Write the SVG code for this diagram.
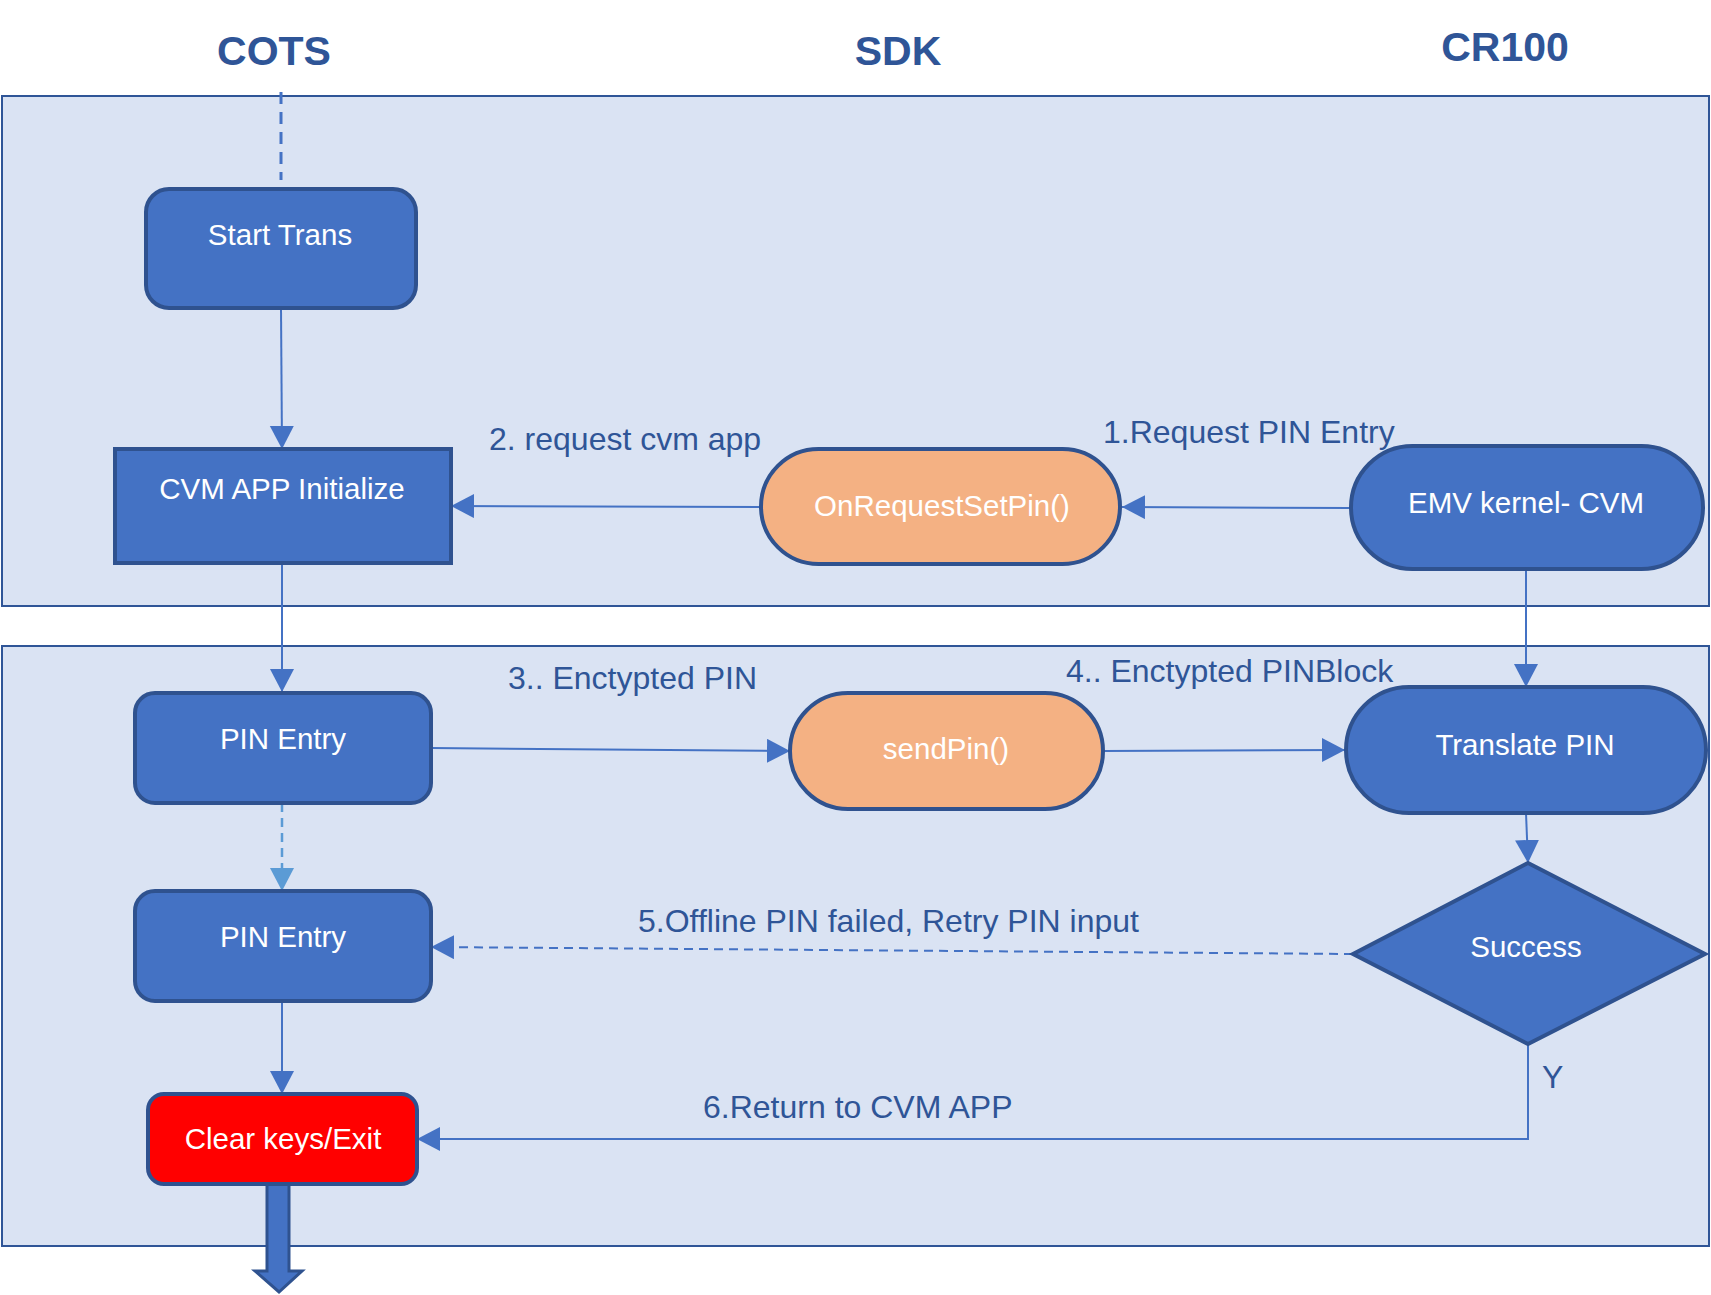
<svg xmlns="http://www.w3.org/2000/svg" width="1711" height="1295" viewBox="0 0 1711 1295">
<defs>
<style>
.panel{fill:#DAE3F3;stroke:#2F5597;stroke-width:2}
.node{fill:#4472C4;stroke:#2F528F;stroke-width:4}
.orange{fill:#F4B183;stroke:#2F528F;stroke-width:4}
.red{fill:#FF0000;stroke:#2F528F;stroke-width:4}
.ntxt{font-family:"Liberation Sans",Arial,sans-serif;font-size:29.5px;fill:#FFFFFF;text-anchor:middle}
.lbl{font-family:"Liberation Sans",Arial,sans-serif;font-size:32px;fill:#2F5597}
.title{font-family:"Liberation Sans",Arial,sans-serif;font-size:41px;font-weight:bold;fill:#2F5597;text-anchor:middle}
.conn{fill:none;stroke:#4472C4;stroke-width:2}
.dash{stroke-dasharray:9,6}
</style>
<marker id="ah" markerUnits="userSpaceOnUse" markerWidth="24" markerHeight="26" refX="23" refY="12" orient="auto">
<path d="M0,0 L23,12 L0,24 Z" fill="#4472C4"/>
</marker>
<marker id="ahl" markerUnits="userSpaceOnUse" markerWidth="24" markerHeight="26" refX="23" refY="12" orient="auto">
<path d="M0,0 L23,12 L0,24 Z" fill="#5B9BD5"/>
</marker>
</defs>
<rect width="1711" height="1295" fill="#FFFFFF"/>
<g id="titles">
<text class="title" x="274" y="65">COTS</text>
<text class="title" x="898" y="65">SDK</text>
<text class="title" x="1505" y="61">CR100</text>
</g>
<g id="panels">
<rect class="panel" x="2" y="96" width="1707" height="510"/>
<rect class="panel" x="2" y="646" width="1707" height="600"/>
</g>
<g id="connectors">
<line x1="281" y1="92" x2="281" y2="180" stroke="#4472C4" stroke-width="3" stroke-dasharray="12,8"/>
<line class="conn" x1="281" y1="308" x2="282" y2="449" marker-end="url(#ah)"/>
<line class="conn" x1="761" y1="507" x2="451" y2="506" marker-end="url(#ah)"/>
<line class="conn" x1="1351" y1="508" x2="1122" y2="507" marker-end="url(#ah)"/>
<line class="conn" x1="282" y1="563" x2="282" y2="692" marker-end="url(#ah)"/>
<line class="conn" x1="1526" y1="569" x2="1526" y2="687" marker-end="url(#ah)"/>
<line class="conn" x1="431" y1="748" x2="790" y2="751" marker-end="url(#ah)"/>
<line class="conn" x1="1103" y1="751" x2="1345" y2="750" marker-end="url(#ah)"/>
<line x1="282" y1="803" x2="282" y2="891" fill="none" stroke="#5B9BD5" stroke-width="2.5" stroke-dasharray="9,6" marker-end="url(#ahl)"/>
<line class="conn" x1="1526" y1="813" x2="1528" y2="863" marker-end="url(#ah)"/>
<line class="conn dash" x1="1353" y1="954" x2="431" y2="947" marker-end="url(#ah)"/>
<line class="conn" x1="282" y1="1001" x2="282" y2="1094" marker-end="url(#ah)"/>
<polyline class="conn" points="1528,1044 1528,1139 417,1139" marker-end="url(#ah)"/>
<polygon points="267,1184 289,1184 289,1271 302,1271 279,1292 255,1271 267,1271" fill="#4472C4" stroke="#2F528F" stroke-width="3"/>
</g>
<g id="labels">
<text class="lbl" x="489" y="450">2. request cvm app</text>
<text class="lbl" x="1103" y="443">1.Request PIN Entry</text>
<text class="lbl" x="508" y="689">3.. Enctypted PIN</text>
<text class="lbl" x="1066" y="682">4.. Enctypted PINBlock</text>
<text class="lbl" x="638" y="932">5.Offline PIN failed, Retry PIN input</text>
<text class="lbl" x="703" y="1118">6.Return to CVM APP</text>
<text class="lbl" x="1542" y="1088">Y</text>
</g>
<g id="start-trans">
<rect class="node" x="146" y="189" width="270" height="119" rx="23"/>
<text class="ntxt" x="280" y="245">Start Trans</text>
</g>
<g id="cvm-app-initialize">
<rect class="node" x="115" y="449" width="336" height="114"/>
<text class="ntxt" x="282" y="499">CVM APP Initialize</text>
</g>
<g id="on-request-set-pin">
<rect class="orange" x="761" y="449" width="359" height="115" rx="57.5"/>
<text class="ntxt" x="942" y="516">OnRequestSetPin()</text>
</g>
<g id="emv-kernel-cvm">
<rect class="node" x="1351" y="446" width="352" height="123" rx="61.5"/>
<text class="ntxt" x="1526" y="513">EMV kernel- CVM</text>
</g>
<g id="pin-entry-1">
<rect class="node" x="135" y="693" width="296" height="110" rx="20"/>
<text class="ntxt" x="283" y="749">PIN Entry</text>
</g>
<g id="send-pin">
<rect class="orange" x="790" y="693" width="313" height="116" rx="58"/>
<text class="ntxt" x="946" y="759">sendPin()</text>
</g>
<g id="translate-pin">
<rect class="node" x="1346" y="687" width="360" height="126" rx="63"/>
<text class="ntxt" x="1525" y="755">Translate PIN</text>
</g>
<g id="pin-entry-2">
<rect class="node" x="135" y="891" width="296" height="110" rx="20"/>
<text class="ntxt" x="283" y="947">PIN Entry</text>
</g>
<g id="success">
<polygon class="node" points="1353,954 1528,863 1705,954 1528,1044"/>
<text class="ntxt" x="1526" y="957">Success</text>
</g>
<g id="clear-keys-exit">
<rect class="red" x="148" y="1094" width="269" height="90" rx="16"/>
<text class="ntxt" x="283" y="1149">Clear keys/Exit</text>
</g>
</svg>
